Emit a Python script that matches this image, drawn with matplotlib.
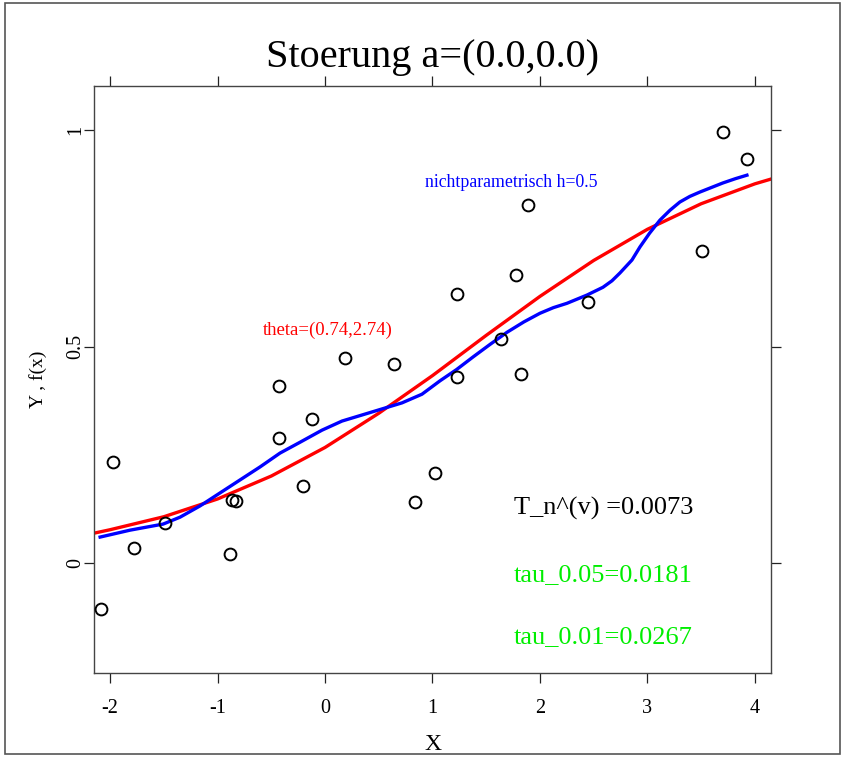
import matplotlib
matplotlib.use('Agg')
import matplotlib.pyplot as plt
from matplotlib.patches import Rectangle

plt.rcParams['font.family'] = ['Liberation Serif', 'DejaVu Serif']
plt.rcParams['axes.unicode_minus'] = False

# data points
pts_x = [-2.084, -1.972, -1.777, -1.488, -0.884, -0.865, -0.828, -0.428, -0.428,
         -0.205, -0.121, 0.186, 0.642, 0.837, 1.023, 1.228, 1.228, 1.637, 1.777,
         1.823, 1.888, 2.447, 3.507, 3.702, 3.926]
pts_y = [-0.106, 0.233, 0.035, 0.092, 0.021, 0.145, 0.143, 0.409, 0.289,
         0.178, 0.333, 0.473, 0.460, 0.141, 0.208, 0.621, 0.430, 0.517, 0.665,
         0.436, 0.827, 0.603, 0.721, 0.995, 0.933]

# parametric fit (red)
red_x = [-2.15, -2.0, -1.5, -1.0, -0.5, 0.0, 0.5, 1.0, 1.5, 2.0, 2.5, 3.0, 3.5, 4.0, 4.15]
red_y = [0.069, 0.077, 0.107, 0.148, 0.201, 0.267, 0.346, 0.433, 0.526, 0.616, 0.699,
         0.771, 0.830, 0.876, 0.887]

# nonparametric fit (blue)
blue_x = [-2.093, -1.814, -1.507, -1.349, -1.163, -0.977, -0.791, -0.605, -0.419, -0.233,
          -0.028, 0.158, 0.344, 0.530, 0.716, 0.902, 1.070, 1.224, 1.377, 1.535, 1.693,
          1.850, 2.000, 2.125, 2.251, 2.437, 2.586, 2.670, 2.744, 2.856, 2.930, 3.020,
          3.116, 3.210, 3.302, 3.395, 3.488, 3.600, 3.702, 3.820, 3.926]
blue_y = [0.060, 0.076, 0.090, 0.106, 0.132, 0.162, 0.192, 0.222, 0.254, 0.279,
          0.307, 0.328, 0.342, 0.356, 0.370, 0.390, 0.421, 0.447, 0.476, 0.505, 0.533,
          0.557, 0.577, 0.590, 0.600, 0.619, 0.637, 0.652, 0.670, 0.700, 0.730, 0.762,
          0.792, 0.815, 0.834, 0.847, 0.857, 0.868, 0.878, 0.888, 0.896]

fig = plt.figure(figsize=(8.45, 7.57), dpi=100)
ax = fig.add_axes([94/845, 84/757, 677/845, 587/757])

ax.plot(red_x, red_y, color='#ff0000', lw=2.4, zorder=2)
ax.plot(blue_x, blue_y, color='#0000ff', lw=2.4, zorder=3)
ax.plot(pts_x, pts_y, 'o', mfc='none', mec='black', mew=1.4, ms=8.5, zorder=4)

ax.set_xlim(-2.15, 4.15)
ax.set_ylim(-0.254, 1.102)
ax.set_xticks([-2, -1, 0, 1, 2, 3, 4])
ax.set_yticks([0, 0.5, 1])
ax.set_yticklabels(['0', '0.5', '1'], rotation=90, va='center')
ax.tick_params(direction='out', length=7, width=0.9, top=True, right=True,
               labelsize=14.5, colors='#222222', labelcolor='black')
ax.tick_params(axis='x', pad=12)
ax.tick_params(axis='y', pad=-1)
for s in ax.spines.values():
    s.set_color('#444444')
    s.set_linewidth(1.0)

ax.set_xlabel('X', fontsize=17, labelpad=11)
ax.set_ylabel('Y , f(x)', fontsize=14, labelpad=14)
ax.set_title('Stoerung a=(0.0,0.0)', fontsize=29, pad=14)

ax.text(0.93, 0.88, 'nichtparametrisch h=0.5', color='#0000ff', fontsize=12.8, va='center')
ax.text(-0.577, 0.538, 'theta=(0.74,2.74)', color='#ff0000', fontsize=13.5, va='center')
ax.text(1.758, 0.127, 'T_n^(v) =0.0073', color='black', fontsize=19, va='center')
ax.text(1.758, -0.028, 'tau_0.05=0.0181', color='#00ee00', fontsize=19, va='center')
ax.text(1.758, -0.171, 'tau_0.01=0.0267', color='#00ee00', fontsize=19, va='center')

fig.patches.append(Rectangle((5/845, 3/757), 835/845, 751/757, transform=fig.transFigure,
                             fill=False, edgecolor='#555555', lw=1.2))

fig.savefig('out.png', dpi=100)
